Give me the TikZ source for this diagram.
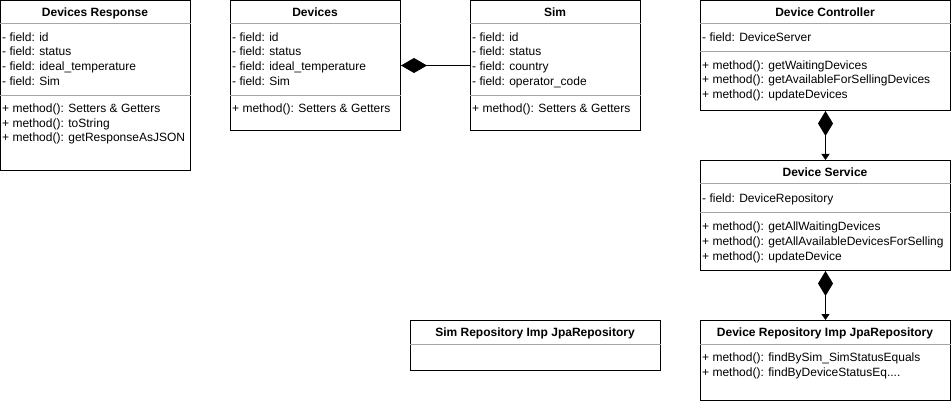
\documentclass[tikz,border=0pt]{standalone}
\usepackage{fontspec}
\setmainfont{Liberation Sans}
\usetikzlibrary{arrows.meta}
\begin{document}
\begin{tikzpicture}[x=1pt,y=-1pt,
  cls/.style={draw=black, line width=1pt, fill=white, anchor=north west, inner sep=0pt},
  sepline/.style={draw=black!35, line width=1pt},
  ttl/.style={anchor=base, inner sep=0pt, font=\fontsize{12}{14}\selectfont\bfseries},
  txt/.style={anchor=base west, inner sep=0pt, font=\fontsize{12}{14}\selectfont},
  comp/.style={line width=1pt, {Diamond[length=26pt,width=15pt,fill=black]}-},
  compar/.style={line width=1pt, {Diamond[length=25pt,width=15pt,fill=black]}-{Triangle[length=6pt,width=8pt,fill=black]}}
]
\useasboundingbox (0,0) rectangle (951,401);

% ---------- Devices Response ----------
\node[cls, minimum width=190pt, minimum height=170pt] (resp) at (0,0) {};
\draw[sepline] ([yshift=-24pt]resp.north west) -- ([yshift=-24pt]resp.north east);
\draw[sepline] ([yshift=-95.5pt]resp.north west) -- ([yshift=-95.5pt]resp.north east);
\node[ttl] (respT) at (95,16.3) {Devices Response};
\node[txt] (respF1) at (2,41.3) {- field: id};
\node[txt] (respF2) at (2,56) {- field: status};
\node[txt] (respF3) at (2,70.6) {- field: ideal\_temperature};
\node[txt] (respF4) at (2,85.3) {- field: Sim};
\node[txt] (respM1) at (2,112.6) {+ method(): Setters \& Getters};
\node[txt] (respM2) at (2,127.3) {+ method(): toString};
\node[txt] (respM3) at (2,141.9) {+ method(): getResponseAsJSON};

% ---------- Devices ----------
\node[cls, minimum width=170pt, minimum height=130pt] (dev) at (230,0) {};
\draw[sepline] ([yshift=-24pt]dev.north west) -- ([yshift=-24pt]dev.north east);
\draw[sepline] ([yshift=-95.5pt]dev.north west) -- ([yshift=-95.5pt]dev.north east);
\node[ttl] (devT) at (315,16.3) {Devices};
\node[txt] (devF1) at (232,41.3) {- field: id};
\node[txt] (devF2) at (232,56) {- field: status};
\node[txt] (devF3) at (232,70.6) {- field: ideal\_temperature};
\node[txt] (devF4) at (232,85.3) {- field: Sim};
\node[txt] (devM1) at (232,112.6) {+ method(): Setters \& Getters};

% ---------- Sim ----------
\node[cls, minimum width=170pt, minimum height=130pt] (sim) at (470,0) {};
\draw[sepline] ([yshift=-24pt]sim.north west) -- ([yshift=-24pt]sim.north east);
\draw[sepline] ([yshift=-95.5pt]sim.north west) -- ([yshift=-95.5pt]sim.north east);
\node[ttl] (simT) at (555,16.3) {Sim};
\node[txt] (simF1) at (472,41.3) {- field: id};
\node[txt] (simF2) at (472,56) {- field: status};
\node[txt] (simF3) at (472,70.6) {- field: country};
\node[txt] (simF4) at (472,85.3) {- field: operator\_code};
\node[txt] (simM1) at (472,112.6) {+ method(): Setters \& Getters};

% ---------- Device Controller ----------
\node[cls, minimum width=250pt, minimum height=110pt] (ctrl) at (700,0) {};
\draw[sepline] ([yshift=-24pt]ctrl.north west) -- ([yshift=-24pt]ctrl.north east);
\draw[sepline] ([yshift=-52pt]ctrl.north west) -- ([yshift=-52pt]ctrl.north east);
\node[ttl] (ctrlT) at (825,16.3) {Device Controller};
\node[txt] (ctrlF1) at (702,41.3) {- field: DeviceServer};
\node[txt] (ctrlM1) at (702,69.3) {+ method(): getWaitingDevices};
\node[txt] (ctrlM2) at (702,84) {+ method(): getAvailableForSellingDevices};
\node[txt] (ctrlM3) at (702,98.6) {+ method(): updateDevices};

% ---------- Device Service ----------
\node[cls, minimum width=250pt, minimum height=110pt] (svc) at (700,160) {};
\draw[sepline] ([yshift=-24pt]svc.north west) -- ([yshift=-24pt]svc.north east);
\draw[sepline] ([yshift=-52pt]svc.north west) -- ([yshift=-52pt]svc.north east);
\node[ttl] (svcT) at (825,176.3) {Device Service};
\node[txt] (svcF1) at (702,202.3) {- field: DeviceRepository};
\node[txt] (svcM1) at (702,230.8) {+ method(): getAllWaitingDevices};
\node[txt] (svcM2) at (702,245.5) {+ method(): getAllAvailableDevicesForSelling};
\node[txt] (svcM3) at (702,260) {+ method(): updateDevice};

% ---------- Device Repository ----------
\node[cls, minimum width=250pt, minimum height=80pt] (repo) at (700,320) {};
\draw[sepline] ([yshift=-24pt]repo.north west) -- ([yshift=-24pt]repo.north east);
\node[ttl] (repoT) at (825,336.3) {Device Repository Imp JpaRepository};
\node[txt] (repoM1) at (702,361.3) {+ method(): findBySim\_SimStatusEquals};
\node[txt] (repoM2) at (702,376) {+ method(): findByDeviceStatusEq....};

% ---------- Sim Repository ----------
\node[cls, minimum width=250pt, minimum height=50pt] (simrepo) at (410,320) {};
\draw[sepline] ([yshift=-24pt]simrepo.north west) -- ([yshift=-24pt]simrepo.north east);
\node[ttl] (simrepoT) at (535,336.3) {Sim Repository Imp JpaRepository};

% ---------- Connectors ----------
\draw[comp] (dev.east) -- (sim.west);
\draw[compar] (ctrl.south) -- (svc.north);
\draw[compar] (svc.south) -- (repo.north);
\end{tikzpicture}
\end{document}
